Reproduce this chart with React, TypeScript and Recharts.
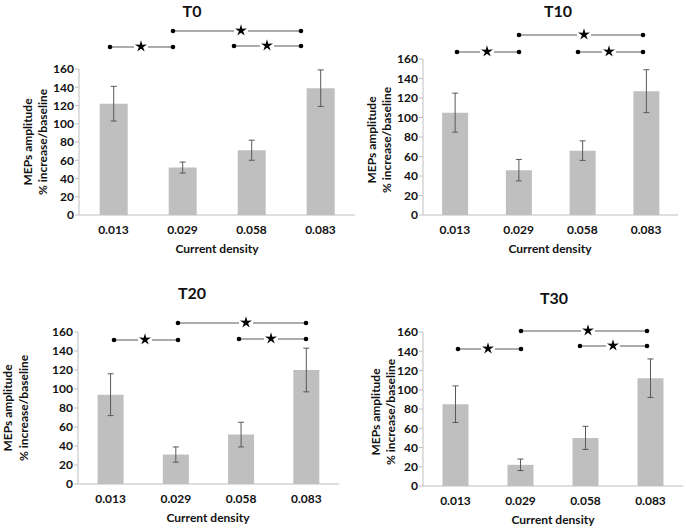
import React from 'react';
import { BarChart, Bar, XAxis, YAxis, ErrorBar } from 'recharts';

const categories = ['0.013', '0.029', '0.058', '0.083'];
const yTicks = [0, 20, 40, 60, 80, 100, 120, 140, 160];

const t0Values = [122, 52, 71, 139];
const t0Errors = [19, 6, 11, 20];
const t10Values = [105, 46, 66, 127];
const t10Errors = [20, 11, 10, 22];
const t20Values = [94, 31, 52, 120];
const t20Errors = [22, 8, 13, 23];
const t30Values = [85, 22, 50, 112];
const t30Errors = [19, 6, 12, 20];

const FONT = 'Lato, "Open Sans", sans-serif';
const BAR = '#bfbfbf';
const AXIS = '#bfbfbf';

const buildRows = (values: number[], errors: number[]) =>
  categories.map((c, i) => ({ name: c, value: values[i], err: errors[i] }));

// pixel layout of each panel (plot box, title, axis titles, significance brackets)
const panels = [
  {
    title: 'T0', values: t0Values, errors: t0Errors,
    plot: { left: 79, right: 355, top: 69, bottom: 215 },
    titlePos: [192, 10], yTitle: [27, 42, 142], xTitle: [217, 248],
    brackets: [[110, 173, 47, 141], [173, 301, 31, 241], [234, 301, 46, 267]],
  },
  {
    title: 'T10', values: t10Values, errors: t10Errors,
    plot: { left: 423, right: 678, top: 59, bottom: 215 },
    titlePos: [558, 10], yTitle: [371, 386, 140], xTitle: [550, 248],
    brackets: [[457, 519, 52, 487], [519, 643, 35, 584], [578, 643, 52, 609]],
  },
  {
    title: 'T20', values: t20Values, errors: t20Errors,
    plot: { left: 78, right: 339, top: 332, bottom: 484 },
    titlePos: [192, 292], yTitle: [7, 23, 408], xTitle: [208, 517],
    brackets: [[114, 178, 340, 145], [178, 306, 323, 246], [239, 306, 339, 271]],
  },
  {
    title: 'T30', values: t30Values, errors: t30Errors,
    plot: { left: 423, right: 683, top: 332, bottom: 486 },
    titlePos: [554, 297], yTitle: [375, 390, 412], xTitle: [553, 519],
    brackets: [[458, 521, 349, 488], [521, 647, 331, 588], [580, 647, 346, 613]],
  },
];

const starPath = (cx: number, cy: number, ro: number, ri: number) => {
  const pts: string[] = [];
  for (let i = 0; i < 10; i++) {
    const r = i % 2 === 0 ? ro : ri;
    const a = -Math.PI / 2 + (i * Math.PI) / 5;
    pts.push(`${(cx + r * Math.cos(a)).toFixed(2)},${(cy + r * Math.sin(a)).toFixed(2)}`);
  }
  return `M${pts.join('L')}Z`;
};

const Y_W = 40;
const M_TOP = 10;
const M_RIGHT = 6;
const X_H = 40;

const Panel = ({ p }: { p: (typeof panels)[number] }) => {
  const { left, right, top, bottom } = p.plot;
  const width = right - left + Y_W + M_RIGHT;
  const height = bottom - top + M_TOP + X_H;
  return (
    <div style={{ position: 'absolute', left: left - Y_W, top: top - M_TOP }}>
      <BarChart
        width={width}
        height={height}
        data={buildRows(p.values, p.errors)}
        margin={{ top: M_TOP, right: M_RIGHT, left: 0, bottom: 0 }}
        barCategoryGap="30%"
      >
        <XAxis
          dataKey="name"
          height={X_H}
          stroke={AXIS}
          tickLine={false}
          tickMargin={4}
          tick={{ fill: '#111', fontSize: 12, fontWeight: 700, fontFamily: FONT }}
        />
        <YAxis
          width={Y_W}
          domain={[0, 160]}
          ticks={yTicks}
          interval={0}
          stroke={AXIS}
          tickSize={4}
          tickMargin={1}
          tick={{ fill: '#111', fontSize: 12, fontWeight: 700, fontFamily: FONT }}
        />
        <Bar dataKey="value" fill={BAR} isAnimationActive={false}>
          <ErrorBar dataKey="err" width={3} stroke="#595959" strokeWidth={1} direction="y" isAnimationActive={false} />
        </Bar>
      </BarChart>
    </div>
  );
};

const Overlay = () => (
  <svg width={686} height={529} style={{ position: 'absolute', left: 0, top: 0, pointerEvents: 'none' }}>
    {panels.map((p) => (
      <g key={p.title} fontFamily={FONT} fill="#111">
        <text x={p.titlePos[0]} y={p.titlePos[1]} textAnchor="middle" dominantBaseline="central" fontSize={16} fontWeight={700}>
          {p.title}
        </text>
        <text
          transform={`translate(${p.yTitle[0]},${p.yTitle[2]}) rotate(-90)`}
          textAnchor="middle" dominantBaseline="central" fontSize={12} fontWeight={700}
        >
          MEPs amplitude
        </text>
        <text
          transform={`translate(${p.yTitle[1]},${p.yTitle[2]}) rotate(-90)`}
          textAnchor="middle" dominantBaseline="central" fontSize={12} fontWeight={700}
        >
          % increase/baseline
        </text>
        <text x={p.xTitle[0]} y={p.xTitle[1]} textAnchor="middle" dominantBaseline="central" fontSize={12} fontWeight={700}>
          Current density
        </text>
        {p.brackets.map(([x1, x2, y, s], i) => (
          <g key={i}>
            <line x1={x1} y1={y} x2={s - 7} y2={y} stroke="#595959" strokeWidth={1} />
            <line x1={s + 7} y1={y} x2={x2} y2={y} stroke="#595959" strokeWidth={1} />
            <circle cx={x1} cy={y} r={2.3} fill="#000" />
            <circle cx={x2} cy={y} r={2.3} fill="#000" />
            <path d={starPath(s, y - 0.5, 6.3, 2.2)} fill="#000" />
          </g>
        ))}
      </g>
    ))}
  </svg>
);

export default function App() {
  return (
    <div style={{ position: 'absolute', left: 0, top: 0, width: 686, height: 529, background: '#fff' }}>
      {panels.map((p) => (
        <Panel key={p.title} p={p} />
      ))}
      <Overlay />
    </div>
  );
}
